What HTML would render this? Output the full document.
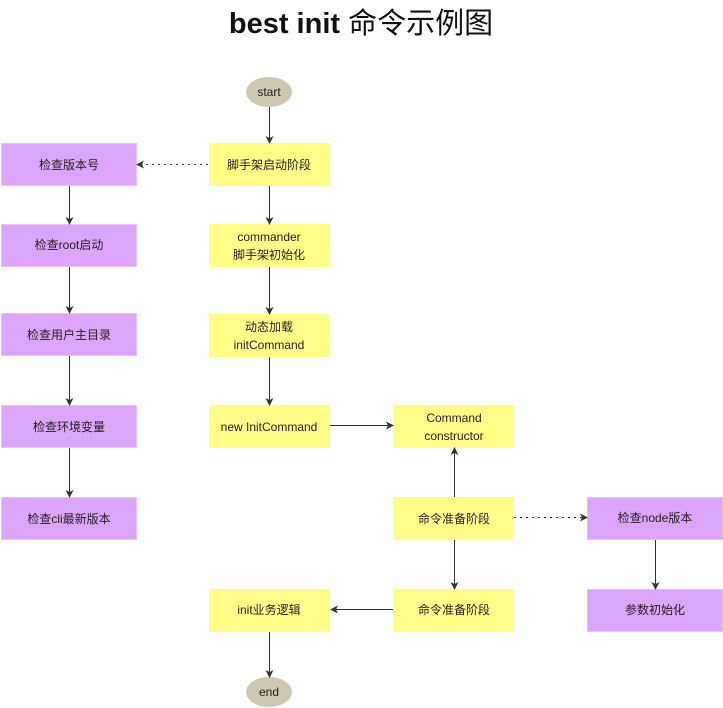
<!DOCTYPE html>
<html><head><meta charset="utf-8"><style>
html,body{margin:0;padding:0;background:#fff;width:723px;height:708px;overflow:hidden}
svg text{font-family:"Liberation Sans","Noto Sans CJK SC",sans-serif;font-size:12px;fill:#222}
</style></head><body>
<svg width="723" height="708" viewBox="0 0 723 708" xmlns="http://www.w3.org/2000/svg">
<defs>
<marker id="a" markerWidth="8" markerHeight="8" refX="7" refY="4" orient="auto" markerUnits="userSpaceOnUse">
<path d="M0,0 L8,4 L0,8 L2,4 z" fill="#333"/></marker>
</defs>
<text x="361" y="33" text-anchor="middle" style="font-size:29px;fill:#111"><tspan style="font-weight:bold">best init </tspan><tspan>命令示例图</tspan></text>
<g fill="#ffff88">
<rect x="209" y="143" width="121" height="43"/>
<rect x="209" y="224" width="121" height="43"/>
<rect x="209" y="314" width="121" height="43"/>
<rect x="209" y="405" width="121" height="43"/>
<rect x="393" y="405" width="121" height="43"/>
<rect x="393" y="497" width="121" height="43"/>
<rect x="393" y="589" width="121" height="43"/>
<rect x="209" y="589" width="121" height="43"/>
</g>
<g fill="#dba6fa" stroke="#e6c4fb" stroke-width="1">
<rect x="1.5" y="143.5" width="135" height="42"/>
<rect x="1.5" y="224.5" width="135" height="42"/>
<rect x="1.5" y="313.5" width="135" height="42"/>
<rect x="1.5" y="405.5" width="135" height="42"/>
<rect x="1.5" y="497.5" width="135" height="42"/>
<rect x="587.5" y="497.5" width="135" height="42"/>
<rect x="587.5" y="589.5" width="135" height="42"/>
</g>
<ellipse cx="269" cy="92" rx="23" ry="15" fill="#cdc8b4"/>
<ellipse cx="269" cy="692" rx="23" ry="15" fill="#cdc8b4"/>
<g stroke="#333" stroke-width="1" fill="none" marker-end="url(#a)">
<line x1="269.5" y1="107" x2="269.5" y2="143"/>
<line x1="269.5" y1="186" x2="269.5" y2="224"/>
<line x1="269.5" y1="267" x2="269.5" y2="314"/>
<line x1="269.5" y1="357" x2="269.5" y2="405"/>
<line x1="330" y1="425.5" x2="393" y2="425.5"/>
<line x1="454.5" y1="497" x2="454.5" y2="448"/>
<line x1="454.5" y1="540" x2="454.5" y2="589"/>
<line x1="393" y1="609.5" x2="331" y2="609.5"/>
<line x1="269.5" y1="632" x2="269.5" y2="677"/>
<line x1="69.5" y1="186" x2="69.5" y2="224"/>
<line x1="69.5" y1="267" x2="69.5" y2="313"/>
<line x1="69.5" y1="356" x2="69.5" y2="405"/>
<line x1="69.5" y1="448" x2="69.5" y2="497"/>
<line x1="655.5" y1="540" x2="655.5" y2="589"/>
<line x1="208" y1="164.5" x2="137" y2="164.5" stroke-dasharray="2,4"/>
<line x1="514" y1="517.5" x2="587" y2="517.5" stroke-dasharray="2,4"/>
</g>
<g text-anchor="middle">
<text x="269" y="96">start</text>
<text x="269" y="696">end</text>
<text x="269" y="169">脚手架启动阶段</text>
<text x="269" y="241">commander</text>
<text x="269" y="259">脚手架初始化</text>
<text x="269" y="331">动态加载</text>
<text x="269" y="349">initCommand</text>
<text x="269" y="431">new InitCommand</text>
<text x="454" y="422">Command</text>
<text x="454" y="440">constructor</text>
<text x="454" y="523">命令准备阶段</text>
<text x="454" y="614">命令准备阶段</text>
<text x="269" y="614">init业务逻辑</text>
<text x="69" y="169">检查版本号</text>
<text x="69" y="249">检查root启动</text>
<text x="69" y="339">检查用户主目录</text>
<text x="69" y="431">检查环境变量</text>
<text x="69" y="523">检查cli最新版本</text>
<text x="655" y="522">检查node版本</text>
<text x="655" y="614">参数初始化</text>
</g>
</svg>
</body></html>
